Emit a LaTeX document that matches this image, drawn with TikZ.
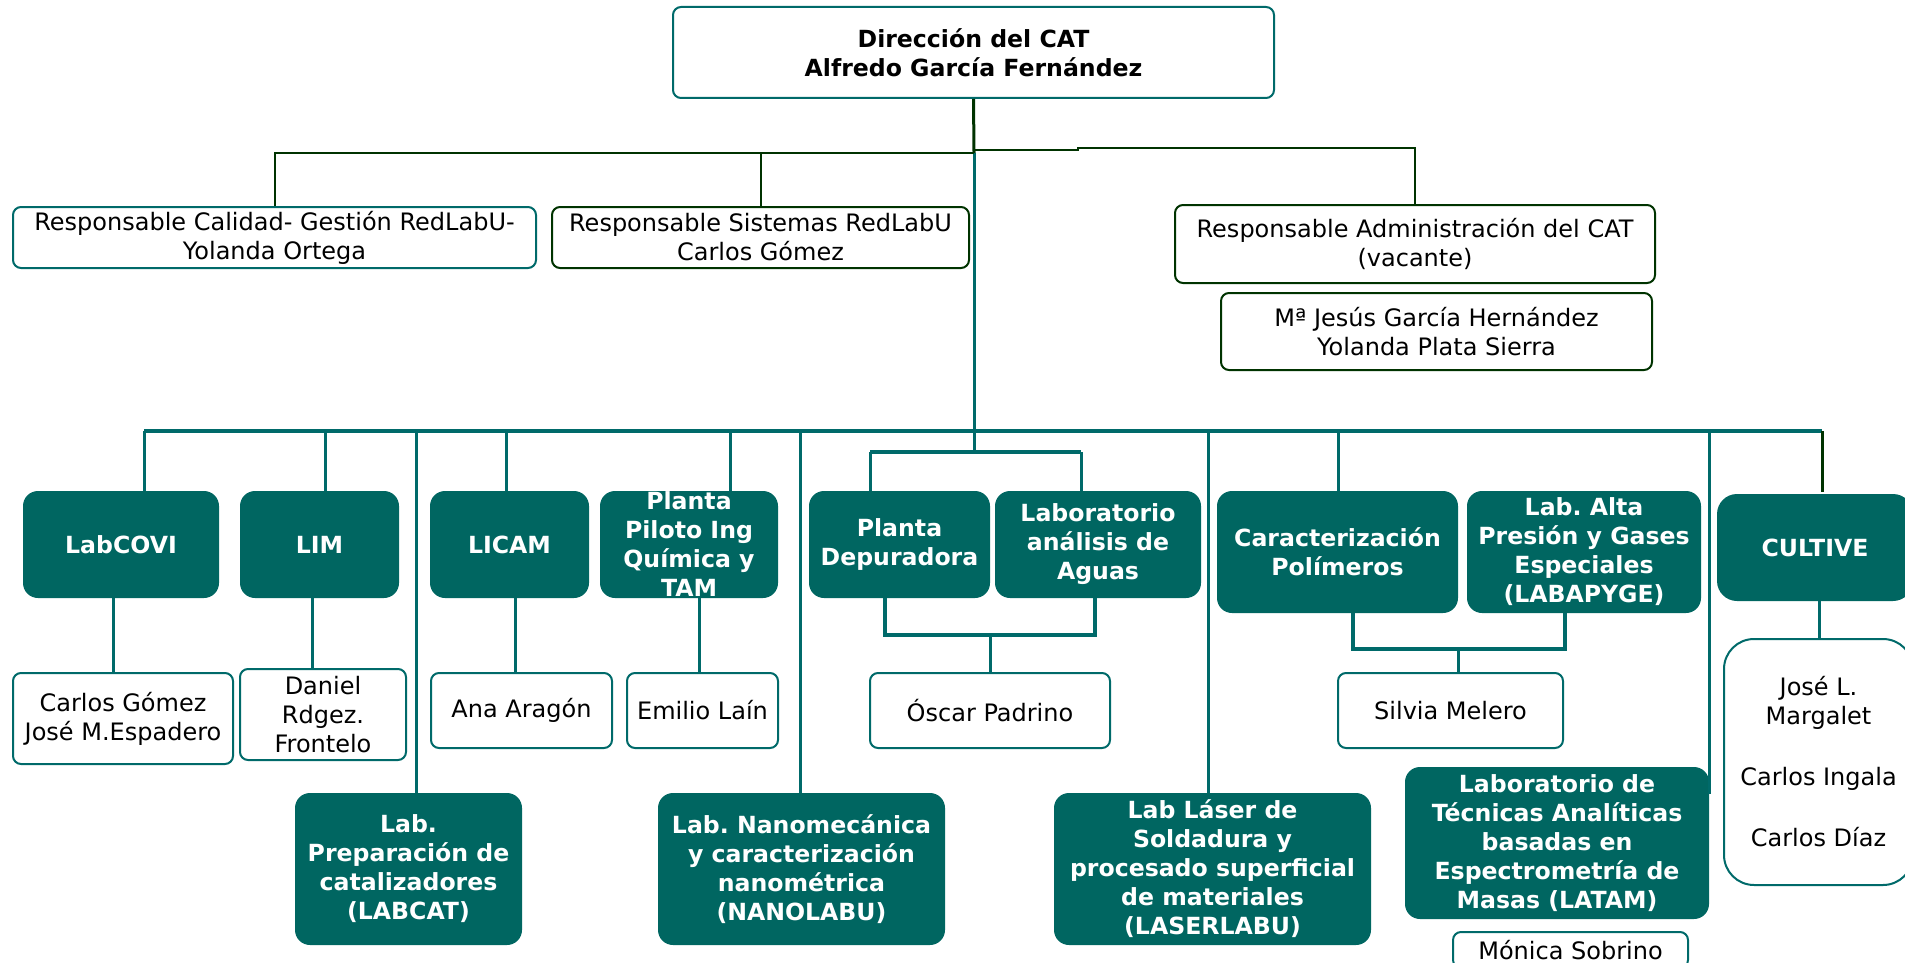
\documentclass[tikz,border=0pt]{standalone}
\usepackage{fontspec}
\setmainfont{DejaVu Sans}
\frenchspacing
\definecolor{tealfill}{RGB}{0,102,97}
\definecolor{tealline}{RGB}{0,106,106}
\definecolor{dgreen}{RGB}{0,51,0}
\newcommand\nf{\fontsize{12}{14.5}\selectfont\frenchspacing}
\newcommand\bfnt{\fontsize{11.8}{14.5}\selectfont\bfseries\frenchspacing}
\tikzset{
  wb/.style={draw=tealline, line width=1pt, rounded corners=4pt, fill=white, inner sep=0pt, align=center, font=\nf},
  wbg/.style={wb, draw=dgreen},
  gb/.style={fill=tealfill, draw=none, rounded corners=7.5pt, text=white, font=\bfnt, inner sep=0pt, align=center},
  tl/.style={draw=tealline, line width=1.5pt},
  busline/.style={draw=tealline, line width=2pt},
  dg/.style={draw=dgreen, line width=1pt},
  dgt/.style={draw=dgreen, line width=1.5pt},
}
% \bx{style}{x1}{y1}{x2}{y2}{name}{text}
\newcommand\bx[7]{\node[#1, minimum width={((#4)-(#2))*0.5pt}, minimum height={((#5)-(#3))*0.5pt}, anchor=center] (#6) at ({((#2)+(#4))/2},{((#3)+(#5))/2}) {#7};}
\begin{document}
\begin{tikzpicture}[x=0.5pt, y=-0.5pt]
\useasboundingbox (0,0) rectangle (1905,963);
% ---- top boxes
\bx{wb, font=\bfnt}{673}{7}{1274}{98}{dir}{Dirección del CAT\\Alfredo García Fernández}
\bx{wb}{13}{207}{536}{268}{cal}{Responsable Calidad- Gestión RedLabU-\\Yolanda Ortega}
\bx{wbg}{552}{207}{969}{268}{sis}{Responsable Sistemas RedLabU\\Carlos Gómez}
\bx{wbg}{1175}{205}{1655}{283}{adm}{Responsable Administración del CAT\\(vacante)}
\bx{wbg}{1221}{293}{1652}{370}{mj}{Mª Jesús García Hernández\\Yolanda Plata Sierra}
% ---- lab boxes
\bx{gb}{23}{491}{219}{598}{labcovi}{LabCOVI}
\bx{gb}{240}{491}{399}{598}{lim}{LIM}
\bx{gb}{430}{491}{589}{598}{licam}{LICAM}
\bx{gb}{600}{491}{778}{598}{piloto}{Planta\\Piloto Ing\\Química y\\TAM}
\bx{gb}{809}{491}{990}{598}{depur}{Planta\\Depuradora}
\bx{gb}{995}{491}{1201}{598}{aguas}{Laboratorio\\análisis de\\Aguas}
\bx{gb}{1217}{491}{1458}{613}{carac}{Caracterización\\Polímeros}
\bx{gb}{1467}{491}{1701}{613}{labapyge}{Lab. Alta\\Presión y Gases\\Especiales\\(LABAPYGE)}
\bx{gb, rounded corners=10pt}{1717}{494}{1913}{601}{cultive}{CULTIVE}
\bx{gb}{295}{793}{522}{945}{labcat}{Lab.\\Preparación de\\catalizadores\\(LABCAT)}
\bx{gb}{658}{793}{945}{945}{nano}{Lab. Nanomecánica\\y caracterización\\nanométrica\\(NANOLABU)}
\bx{gb}{1054}{793}{1371}{945}{laser}{Lab Láser de\\Soldadura y\\procesado superficial\\de materiales\\(LASERLABU)}
\bx{gb}{1405}{767}{1709}{919}{latam}{Laboratorio de\\Técnicas Analíticas\\basadas en\\Espectrometría de\\Masas (LATAM)}
% ---- people boxes
\bx{wb}{13}{673}{233}{764}{carlos}{Carlos Gómez\\José M.Espadero}
\bx{wb}{240}{669}{406}{760}{daniel}{Daniel\\Rdgez.\\Frontelo}
\bx{wb}{431}{673}{612}{748}{ana}{Ana Aragón}
\bx{wb}{627}{673}{778}{748}{emilio}{Emilio Laín}
\bx{wb}{870}{673}{1110}{748}{oscar}{Óscar Padrino}
\bx{wb}{1338}{673}{1563}{748}{silvia}{Silvia Melero}
\bx{wb, rounded corners=15pt}{1724}{639}{1913}{885}{people}{José L.\\Margalet\\[16pt]Carlos Ingala\\[16pt]Carlos Díaz}
\bx{wb}{1453}{932}{1688}{968}{monica}{Mónica Sobrino}
% ---- coordinates
\coordinate (hl) at (974,153);
\coordinate (hr) at (974,150);
\coordinate (st) at (1078,150);
\coordinate (sub) at (974,452);
\coordinate (b1) at (144,431);
\coordinate (b2) at (325,431);
\coordinate (b3) at (416,431);
\coordinate (b4) at (506,431);
\coordinate (b5) at (730,431);
\coordinate (b6) at (800,431);
\coordinate (b7) at (1208,431);
\coordinate (b8) at (1338,431);
\coordinate (b9) at (1709,431);
\coordinate (b10) at (1822,431);
\coordinate (s1) at (870,452);
\coordinate (s2) at (1081,452);
\coordinate (latamend) at (1709,794);
\coordinate (dl) at (885,635);
\coordinate (dr) at (1095,635);
\coordinate (dm) at (990,635);
\coordinate (pl) at (1353,649);
\coordinate (pr) at (1565,649);
\coordinate (pm) at (1458,649);
\coordinate (c1) at (113,598);
\coordinate (c2) at (312,598);
\coordinate (c3) at (515,598);
\coordinate (c4) at (699,598);
\coordinate (c5) at (1819,601);
% ---- top connectors
\draw[dgt] (dir.south) -- (hl);
\draw[tl] (hl) -- (sub);
\draw[dg] (cal.north) |- (hl);
\draw[dg] (sis.north) -- (sis.north |- hl);
\draw[dg] (hr) -- (st) -- ++(0,-2.5) -| (adm.north);
% ---- bus
\draw[busline] (b1) -- (b10);
\draw[tl] (b1) -- (b1 |- labcovi.north);
\draw[tl] (b2) -- (b2 |- lim.north);
\draw[tl] (b3) -- (b3 |- labcat.north);
\draw[tl] (b4) -- (b4 |- licam.north);
\draw[tl] (b5) -- (b5 |- piloto.north);
\draw[tl] (b6) -- (b6 |- nano.north);
\draw[tl] (b7) -- (b7 |- laser.north);
\draw[tl] (b8) -- (b8 |- carac.north);
\draw[tl] (b9) -- (latamend);
\draw[dgt] (b10) -- ([yshift=1pt]b10 |- cultive.north);
% ---- depuradora / aguas
\draw[busline] (s1) -- (s2);
\draw[tl] (s1) -- (s1 |- depur.north);
\draw[tl] (s2) -- (s2 |- aguas.north);
\draw[busline] (dl |- depur.south) -- (dl) -- (dr) -- (dr |- aguas.south);
\draw[tl] (dm) -- (dm |- oscar.north);
% ---- caracterizacion / labapyge
\draw[busline] (pl |- carac.south) -- (pl) -- (pr) -- (pr |- labapyge.south);
\draw[tl] (pm) -- (pm |- silvia.north);
% ---- lab to people
\draw[tl] (c1) -- (c1 |- carlos.north);
\draw[tl] (c2) -- (c2 |- daniel.north);
\draw[tl] (c3) -- (c3 |- ana.north);
\draw[tl] (c4) -- (c4 |- emilio.north);
\draw[tl] (c5) -- (c5 |- people.north);
\end{tikzpicture}
\end{document}
